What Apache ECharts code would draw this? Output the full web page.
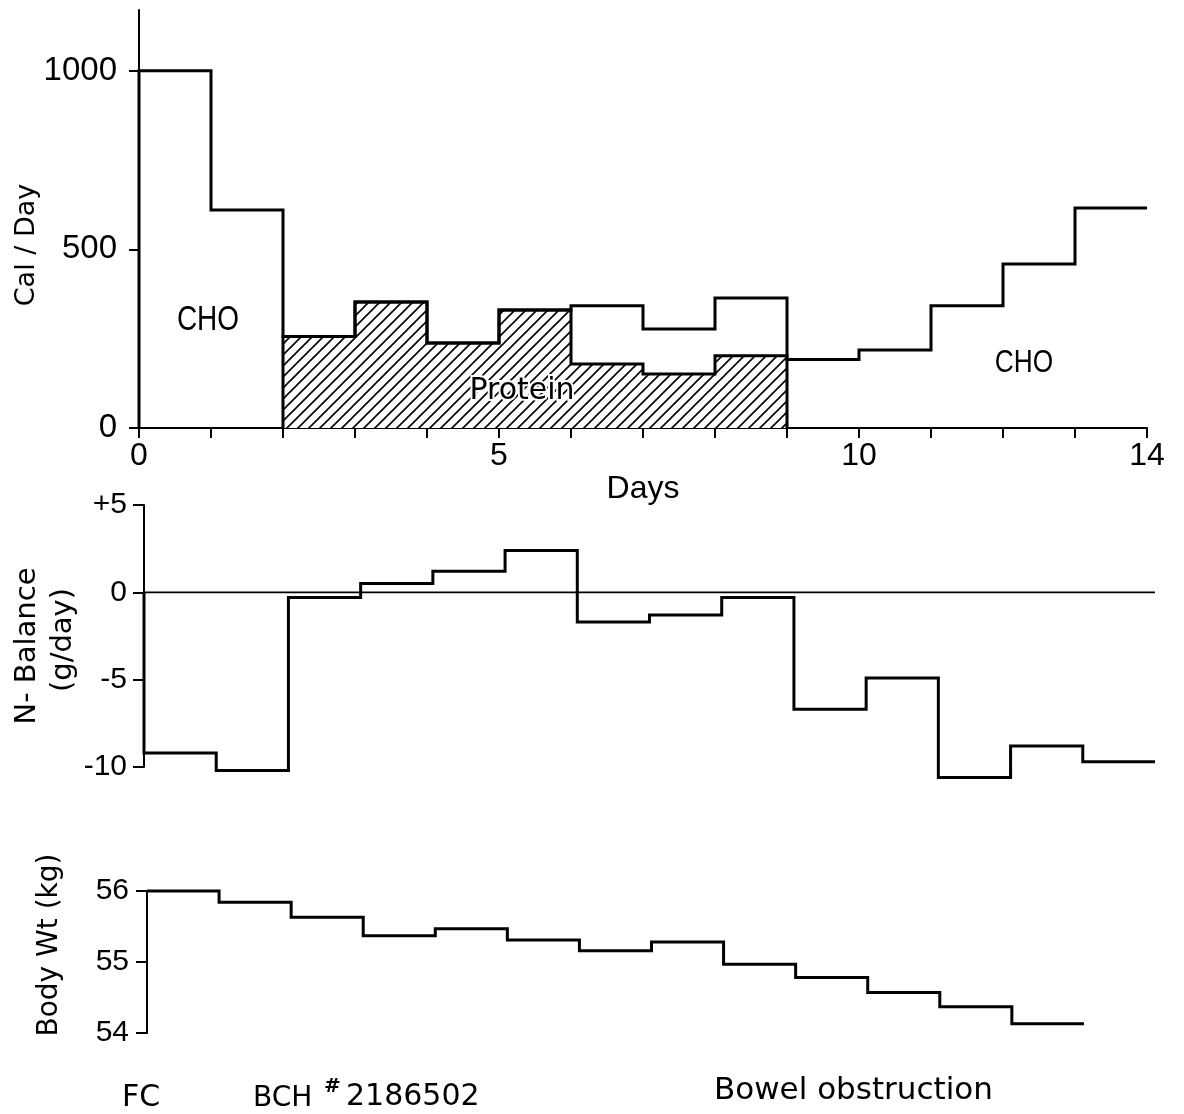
<!DOCTYPE html>
<html>
<head>
<meta charset="utf-8">
<script src="https://cdn.jsdelivr.net/npm/echarts@6/dist/echarts.min.js"></script>
<style>
  html, body { margin: 0; padding: 0; background: #fff; }
  #chart { width: 1184px; height: 1114px; }
</style>
</head>
<body>
<div id="chart"></div>
<script>
// Daily caloric intake (Cal/day), one value per day interval starting at day 0
const totalCal = [1000, 610, 256, 353, 238, 330, 342, 277, 364, 192, 218, 342, 459, 616];
// Protein calories, given on days 2..8
const proteinStartDay = 2;
const proteinCal = [256, 353, 238, 330, 179, 151, 202];
// Nitrogen balance (g/day), one value per day interval
const nBalance = [-9.2, -10.2, -0.3, 0.5, 1.2, 2.4, -1.7, -1.3, -0.3, -6.7, -4.9, -10.6, -8.8, -9.7];
// Body weight (kg), one value per day interval
const bodyWt = [56.0, 55.84, 55.63, 55.37, 55.47, 55.31, 55.16, 55.28, 54.97, 54.78, 54.57, 54.37, 54.13];

// Tick values / labels
const dayLabelTicks = [0, 5, 10, 14];
const calTicks = [0, 500, 1000];
const nTicks = [-10, -5, 0, 5];
const wtTicks = [54, 55, 56];

const INK = '#000';
const SANS = "'DejaVu Sans', sans-serif";
const NUM = "'Liberation Sans', Arial, sans-serif";

// Turn per-day values into step points: [day, value] ... plus closing point
function stepPoints(values, start) {
  const pts = values.map((v, i) => [start + i, v]);
  pts.push([start + values.length, values[values.length - 1]]);
  return pts;
}

// Diagonal "/" hatch tile for the protein area
function hatchTile() {
  const s = 11;
  const c = document.createElement('canvas');
  c.width = s; c.height = s;
  const g = c.getContext('2d');
  g.fillStyle = '#fff';
  g.fillRect(0, 0, s, s);
  g.strokeStyle = INK;
  g.lineWidth = 1.6;
  g.beginPath();
  g.moveTo(-1, s + 1); g.lineTo(s + 1, -1);
  g.moveTo(-2, 2); g.lineTo(2, -2);
  g.moveTo(s - 2, s + 2); g.lineTo(s + 2, s - 2);
  g.stroke();
  return c;
}

const totalData = [[0, 0]].concat(stepPoints(totalCal, 0));
const proteinEnd = proteinStartDay + proteinCal.length;
const proteinData = [[proteinStartDay, 0]]
  .concat(stepPoints(proteinCal, proteinStartDay))
  .concat([[proteinEnd, 0]]);
const nData = [[0, 0]].concat(stepPoints(nBalance, 0));
const wtData = stepPoints(bodyWt, 0);

const stepLine = { color: INK, width: 3, join: 'miter', cap: 'butt' };
const axisLineStyle = { color: INK, width: 2 };

function yAxisBase(gridIndex, min, max, ticks, fontSize, margin, tickLen, formatter) {
  return {
    gridIndex, type: 'value', min, max,
    axisLine: { show: true, onZero: false, lineStyle: axisLineStyle },
    axisTick: { show: true, length: tickLen, customValues: ticks, lineStyle: { color: INK, width: 2 } },
    axisLabel: {
      show: true, customValues: ticks, color: INK, fontFamily: NUM, fontSize, margin,
      formatter: formatter || (v => String(v))
    },
    splitLine: { show: false }
  };
}

const chart = echarts.init(document.getElementById('chart'), null, { renderer: 'canvas' });

chart.setOption({
  backgroundColor: '#fff',
  animation: false,
  grid: [
    { left: 139, top: 10, width: 1008, height: 418 },
    { left: 144, top: 505, width: 1011, height: 262 },
    { left: 147, top: 891, width: 1009, height: 142 }
  ],
  xAxis: [
    {
      gridIndex: 0, type: 'value', min: 0, max: 14, interval: 1,
      axisLine: { show: true, onZero: false, lineStyle: axisLineStyle },
      axisTick: { show: true, length: 10, lineStyle: { color: INK, width: 2 } },
      axisLabel: { show: true, customValues: dayLabelTicks, color: INK, fontFamily: NUM, fontSize: 32, margin: 12 },
      splitLine: { show: false },
      name: 'Days', nameLocation: 'middle', nameGap: 30,
      nameTextStyle: { color: INK, fontFamily: NUM, fontSize: 32 }
    },
    { gridIndex: 1, type: 'value', min: 0, max: 14, show: false },
    { gridIndex: 2, type: 'value', min: 0, max: 14, show: false }
  ],
  yAxis: [
    yAxisBase(0, 0, 1170, calTicks, 33, 22, 10),
    yAxisBase(1, -10, 5, nTicks, 30, 17, 11, v => (v > 0 ? '+' + v : String(v))),
    yAxisBase(2, 54, 56, wtTicks, 30, 18, 11)
  ],
  series: [
    {
      name: 'Protein', type: 'line', xAxisIndex: 0, yAxisIndex: 0,
      data: proteinData, step: 'end', symbol: 'none', clip: false,
      lineStyle: stepLine,
      areaStyle: { color: { image: hatchTile(), repeat: 'repeat' }, opacity: 1 },
      z: 2
    },
    {
      name: 'Total', type: 'line', xAxisIndex: 0, yAxisIndex: 0,
      data: totalData, step: 'end', symbol: 'none', clip: false,
      lineStyle: stepLine, z: 3
    },
    {
      name: 'Zero', type: 'line', xAxisIndex: 1, yAxisIndex: 1,
      data: [[0, 0], [14, 0]], symbol: 'none', clip: false,
      lineStyle: { color: INK, width: 1.6 }, z: 2
    },
    {
      name: 'N-Balance', type: 'line', xAxisIndex: 1, yAxisIndex: 1,
      data: nData, step: 'end', symbol: 'none', clip: false,
      lineStyle: stepLine, z: 3
    },
    {
      name: 'Body Wt', type: 'line', xAxisIndex: 2, yAxisIndex: 2,
      data: wtData, step: 'end', symbol: 'none', clip: false,
      lineStyle: stepLine, z: 3
    }
  ],
  graphic: [
    { type: 'text', x: 27, y: 245, rotation: Math.PI / 2,
      style: { text: 'Cal / Day', fill: INK, font: "27px " + SANS, align: 'center', verticalAlign: 'middle' } },
    { type: 'text', x: 27, y: 646, rotation: Math.PI / 2,
      style: { text: 'N- Balance', fill: INK, font: "29px " + SANS, align: 'center', verticalAlign: 'middle' } },
    { type: 'text', x: 63, y: 640, rotation: Math.PI / 2,
      style: { text: '(g/day)', fill: INK, font: "29px " + SANS, align: 'center', verticalAlign: 'middle' } },
    { type: 'text', x: 50, y: 945, rotation: Math.PI / 2,
      style: { text: 'Body Wt (kg)', fill: INK, font: "28px " + SANS, align: 'center', verticalAlign: 'middle' } },
    { type: 'text', x: 208, y: 320, scaleX: 0.8,
      style: { text: 'CHO', fill: INK, font: "35px " + NUM, align: 'center', verticalAlign: 'middle' } },
    { type: 'text', x: 1024, y: 363, scaleX: 0.82,
      style: { text: 'CHO', fill: INK, font: "32px " + NUM, align: 'center', verticalAlign: 'middle' } },
    { type: 'text', x: 522, y: 391, z: 10,
      style: { text: 'Protein', fill: INK, font: "30px " + SANS, align: 'center', verticalAlign: 'middle',
               stroke: '#fff', lineWidth: 4 } },
    { type: 'text', x: 141, y: 1098,
      style: { text: 'FC', fill: INK, font: "30px " + SANS, align: 'center', verticalAlign: 'middle' } },
    { type: 'text', x: 253, y: 1099,
      style: { text: 'BCH', fill: INK, font: "28px " + SANS, align: 'left', verticalAlign: 'middle' } },
    { type: 'text', x: 324, y: 1087,
      style: { text: '#', fill: INK, font: "bold 20px " + SANS, align: 'left', verticalAlign: 'middle' } },
    { type: 'text', x: 346, y: 1097,
      style: { text: '2186502', fill: INK, font: "30px " + SANS, align: 'left', verticalAlign: 'middle' } },
    { type: 'text', x: 714, y: 1091,
      style: { text: 'Bowel obstruction', fill: INK, font: "31px " + SANS, align: 'left', verticalAlign: 'middle' } }
  ]
});
</script>
</body>
</html>
